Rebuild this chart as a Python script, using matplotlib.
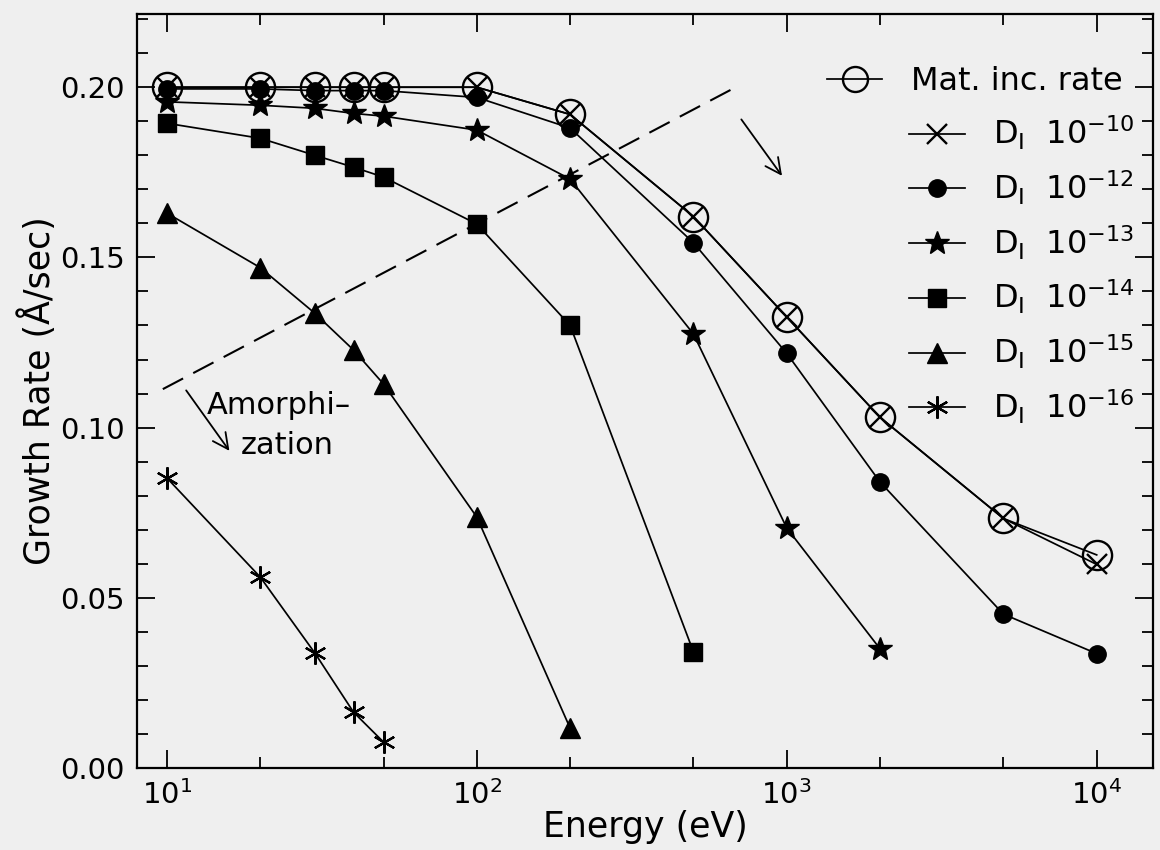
import matplotlib
matplotlib.use("Agg")
import matplotlib.pyplot as plt
from matplotlib.ticker import LogLocator, MultipleLocator, NullFormatter
from matplotlib.legend import Legend

plt.rcParams['font.family'] = ['DejaVu Sans']
plt.rcParams['mathtext.fontset'] = 'dejavusans'

# ---- data (energy in eV, growth rate in A/sec) ----
E_mat = [10, 20, 30, 40, 50, 100, 200, 500, 1000, 2000, 5000, 10000]
rate_mat = [0.200, 0.200, 0.200, 0.200, 0.200, 0.200, 0.192, 0.162, 0.1325, 0.103, 0.0733, 0.0626]
rate_d10 = [0.200, 0.200, 0.200, 0.200, 0.200, 0.200, 0.192, 0.162, 0.1325, 0.103, 0.0733, 0.0598]
rate_d12 = [0.1995, 0.1995, 0.199, 0.199, 0.199, 0.197, 0.188, 0.1543, 0.1218, 0.084, 0.0452, 0.0336]
E_d13 = [10, 20, 30, 40, 50, 100, 200, 500, 1000, 2000]
rate_d13 = [0.1957, 0.1947, 0.1938, 0.1923, 0.1915, 0.1874, 0.173, 0.1275, 0.0705, 0.035]
E_d14 = [10, 20, 30, 40, 50, 100, 200, 500]
rate_d14 = [0.1894, 0.185, 0.180, 0.1765, 0.1736, 0.1598, 0.130, 0.0341]
E_d15 = [10, 20, 30, 40, 50, 100, 200]
rate_d15 = [0.163, 0.147, 0.1336, 0.1228, 0.1128, 0.0737, 0.0117]
E_d16 = [10, 20, 30, 40, 50]
rate_d16 = [0.0852, 0.0561, 0.0338, 0.0164, 0.0076]

# amorphization boundary (dashed)
E_boundary = [9.7, 665]
rate_boundary = [0.1113, 0.1994]

labels = ['Mat. inc. rate',
          r'D$_{\rm I}$  10$^{-10}$', r'D$_{\rm I}$  10$^{-12}$', r'D$_{\rm I}$  10$^{-13}$',
          r'D$_{\rm I}$  10$^{-14}$', r'D$_{\rm I}$  10$^{-15}$', r'D$_{\rm I}$  10$^{-16}$']

bg = '#efefef'
fig = plt.figure(figsize=(11.6, 8.5), dpi=100, facecolor=bg)
ax = fig.add_axes([0.118, 0.0965, 0.876, 0.887])
ax.set_facecolor(bg)

lw = 1.25
k = 'black'
h_mat, = ax.plot(E_mat, rate_mat, '-', color=k, lw=lw, marker='o', ms=21, mfc='none', mec=k, mew=1.7, zorder=5)
h10, = ax.plot(E_mat, rate_d10, '-', color=k, lw=lw, marker='x', ms=14, mec=k, mew=1.7, zorder=4)
h12, = ax.plot(E_mat, rate_d12, '-', color=k, lw=lw, marker='o', ms=12.5, mfc=k, mec=k, zorder=3)
h13, = ax.plot(E_d13, rate_d13, '-', color=k, lw=lw, marker='*', ms=18, mfc=k, mec=k, zorder=3)
h14, = ax.plot(E_d14, rate_d14, '-', color=k, lw=lw, marker='s', ms=12.5, mfc=k, mec=k, zorder=3)
h15, = ax.plot(E_d15, rate_d15, '-', color=k, lw=lw, marker='^', ms=15, mfc=k, mec=k, zorder=3)
h16, = ax.plot(E_d16, rate_d16, '-', color=k, lw=lw, marker=(6, 2, 0), ms=16, mec=k, mew=1.6, zorder=3)

ax.plot(E_boundary, rate_boundary, color=k, lw=1.5, dashes=(11, 5.5), zorder=2)

ax.annotate('', xy=(977, 0.1733), xytext=(705, 0.1912),
            arrowprops=dict(arrowstyle='->', color=k, lw=1.3, mutation_scale=28))
ax.annotate('', xy=(16.1, 0.0925), xytext=(11.4, 0.1116),
            arrowprops=dict(arrowstyle='->', color=k, lw=1.3, mutation_scale=28))
ax.text(13.4, 0.1066, 'Amorphi\u2013', fontsize=22, va='center', ha='left')
ax.text(17.3, 0.0946, 'zation', fontsize=22, va='center', ha='left')

ax.set_xscale('log')
ax.set_xlim(8.0, 15200)
ax.set_ylim(0.0, 0.2215)
ax.xaxis.set_major_locator(LogLocator(base=10, numticks=10))
ax.xaxis.set_minor_locator(LogLocator(base=10, subs=(2.0, 5.0), numticks=10))
ax.xaxis.set_minor_formatter(NullFormatter())
ax.yaxis.set_major_locator(MultipleLocator(0.05))
ax.yaxis.set_minor_locator(MultipleLocator(0.01))
ax.yaxis.set_major_formatter(plt.FormatStrFormatter('%.2f'))

ax.tick_params(which='both', direction='in', top=True, right=True, labelsize=21, width=1.3, colors=k)
ax.tick_params(which='major', length=13, pad=9)
ax.tick_params(which='minor', length=8)
for s in ax.spines.values():
    s.set_linewidth(1.6)

ax.set_xlabel('Energy (eV)', fontsize=25, labelpad=0)
ax.set_ylabel('Growth Rate (\u00c5/sec)', fontsize=25, labelpad=2)

leg1 = Legend(ax, [h_mat], [labels[0]], loc='upper right', bbox_to_anchor=(0.983, 0.948),
              frameon=False, fontsize=23, numpoints=1, handlelength=1.75, handletextpad=0.9,
              borderaxespad=0)
ax.add_artist(leg1)
leg2 = ax.legend([h10, h12, h13, h14, h15, h16], labels[1:], loc='upper right',
                 bbox_to_anchor=(0.995, 0.884), frameon=False, fontsize=23, numpoints=1,
                 handlelength=1.75, handletextpad=0.9, labelspacing=0.52, borderaxespad=0)
for lg in (leg1, leg2):
    for h in lg.legend_handles:
        if h.get_marker() == 'o' and h.get_markerfacecolor() == 'none':
            h.set_markersize(18)

fig.savefig('out.png', dpi=100, facecolor=bg)
